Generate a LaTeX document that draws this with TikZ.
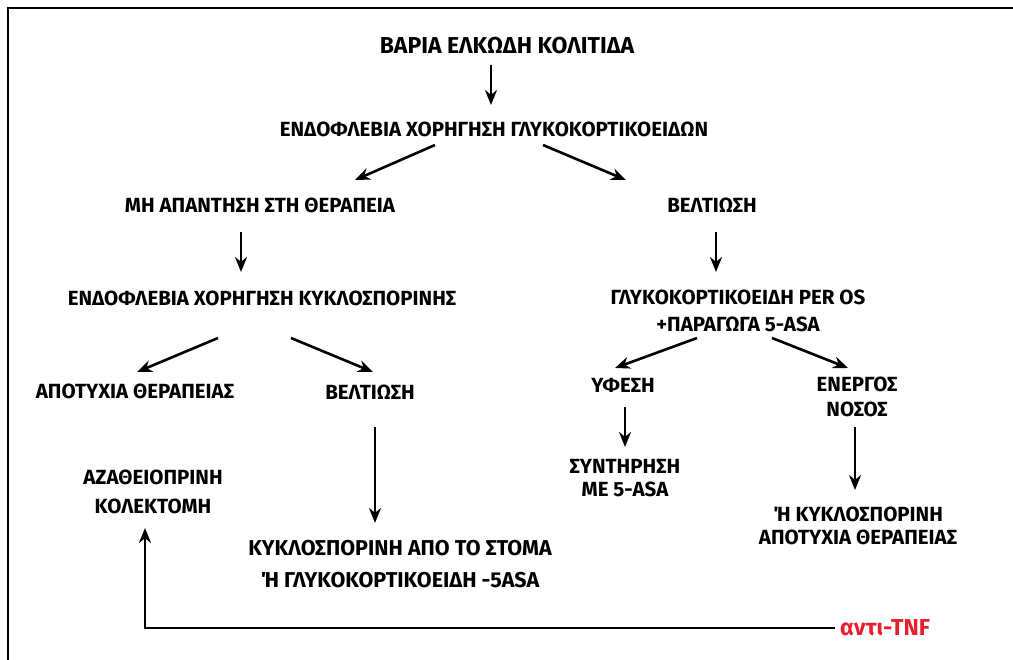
\documentclass[tikz,border=0pt]{standalone}
\usepackage{fontspec}
\setmainfont{Fira Sans}
\usetikzlibrary{arrows.meta}
\definecolor{tnfred}{RGB}{232,30,45}
\begin{document}
\begin{tikzpicture}[x=1pt,y=-1pt,
  lbl/.style={font={\bfseries\fontsize{20.5}{25}\selectfont}, align=center, inner sep=0pt},
  biglbl/.style={lbl, font={\bfseries\fontsize{23}{25}\selectfont}},
  arr/.style={line width=2.6pt, -{Stealth[length=15pt,width=12pt]}},
  frameline/.style={line width=2.4pt, black}]
\useasboundingbox (0,0) rectangle (1013,660);
\draw[frameline] (8,660) -- (8,8) -- (1013,8);

\node[biglbl] (t1) at (507,46) {ΒΑΡΙΑ ΕΛΚΩΔΗ ΚΟΛΙΤΙΔΑ};
\node[lbl] (t2) at (494,129) {ΕΝΔΟΦΛΕΒΙΑ ΧΟΡΗΓΗΣΗ ΓΛΥΚΟΚΟΡΤΙΚΟΕΙΔΩΝ};
\node[lbl] (l1) at (260,205) {ΜΗ ΑΠΑΝΤΗΣΗ ΣΤΗ ΘΕΡΑΠΕΙΑ};
\node[lbl] (r1) at (712,205) {ΒΕΛΤΙΩΣΗ};
\node[lbl] (l2) at (262,298) {ΕΝΔΟΦΛΕΒΙΑ ΧΟΡΗΓΗΣΗ ΚΥΚΛΟΣΠΟΡΙΝΗΣ};
\node[lbl] (r2) at (738,311) {ΓΛΥΚΟΚΟΡΤΙΚΟΕΙΔΗ PER OS\\[2pt]+ΠΑΡΑΓΩΓΑ 5-ASA};
\node[lbl] (l3a) at (135,391) {ΑΠΟΤΥΧΙΑ ΘΕΡΑΠΕΙΑΣ};
\node[lbl] (l3b) at (370,392) {ΒΕΛΤΙΩΣΗ};
\node[lbl] (r3a) at (623,385) {ΥΦΕΣΗ};
\node[lbl] (r3b) at (857,397) {ΕΝΕΡΓΟΣ\\ΝΟΣΟΣ};
\node[lbl] (r4a) at (625,478) {ΣΥΝΤΗΡΗΣΗ\\[-2pt]ΜΕ 5-ASA};
\node[lbl] (r4b) at (858,526) {Ή ΚΥΚΛΟΣΠΟΡΙΝΗ\\[-2pt]ΑΠΟΤΥΧΙΑ ΘΕΡΑΠΕΙΑΣ};
\node[lbl] (l4a) at (153,492) {ΑΖΑΘΕΙΟΠΡΙΝΗ\\[4pt]ΚΟΛΕΚΤΟΜΗ};
\node[lbl, font={\bfseries\fontsize{21.5}{25}\selectfont}] (l4b) at (400,564) {ΚΥΚΛΟΣΠΟΡΙΝΗ ΑΠΟ ΤΟ ΣΤΟΜΑ\\[7pt]Ή ΓΛΥΚΟΚΟΡΤΙΚΟΕΙΔΗ -5ASA};
\node[biglbl, text=tnfred, anchor=west] (tnf) at (840,628) {αντι-TNF};

% arrow end points
\coordinate (a1s) at (491,65);  \coordinate (a1e) at (491,105);
\coordinate (a2s) at (435,145); \coordinate (a2e) at (355,180);
\coordinate (a3s) at (543,145); \coordinate (a3e) at (626,180);
\coordinate (a4s) at (241,232); \coordinate (a4e) at (241,272);
\coordinate (a5s) at (716,232); \coordinate (a5e) at (716,272);
\coordinate (a6s) at (218,338); \coordinate (a6e) at (137,372);
\coordinate (a7s) at (291,338); \coordinate (a7e) at (373,372);
\coordinate (a8s) at (697,338); \coordinate (a8e) at (615,368);
\coordinate (a9s) at (772,338); \coordinate (a9e) at (848,368);
\coordinate (a10s) at (625,407); \coordinate (a10e) at (625,447);
\coordinate (a11s) at (855,427); \coordinate (a11e) at (855,490);
\coordinate (a12s) at (375,427); \coordinate (a12e) at (375,523);
\coordinate (tnfl) at (835,628); \coordinate (corner) at (145,628);
\coordinate (a13e) at (145,528);

\draw[arr] (a1s) -- (a1e);
\draw[arr] (a2s) -- (a2e);
\draw[arr] (a3s) -- (a3e);
\draw[arr] (a4s) -- (a4e);
\draw[arr] (a5s) -- (a5e);
\draw[arr] (a6s) -- (a6e);
\draw[arr] (a7s) -- (a7e);
\draw[arr] (a8s) -- (a8e);
\draw[arr] (a9s) -- (a9e);
\draw[arr] (a10s) -- (a10e);
\draw[arr] (a11s) -- (a11e);
\draw[arr] (a12s) -- (a12e);
\draw[arr] (tnfl) -- (corner) -- (a13e);
\end{tikzpicture}
\end{document}
